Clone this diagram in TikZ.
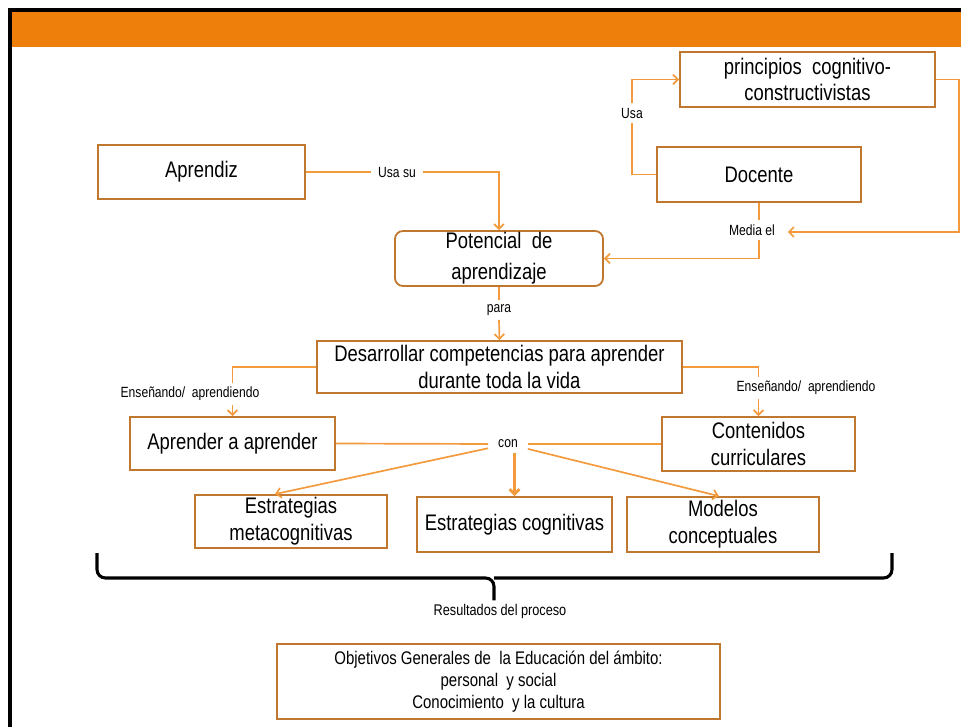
\documentclass[tikz,border=0pt]{standalone}
\usepackage{fontspec}
\setmainfont{Liberation Sans}[FakeStretch=0.82]
\usetikzlibrary{arrows, arrows.meta, calc, positioning}
\definecolor{bar_orange}{HTML}{EE7F0A}
\definecolor{box_brown}{HTML}{C0772F}
\definecolor{link_orange}{HTML}{F39A3C}
\tikzstyle{concept_box}=[rectangle, draw=box_brown, line width=1.3pt, align=center, inner sep=0pt, font=\fontsize{16}{19}\selectfont]
\tikzstyle{link_label}=[inner xsep=5pt, inner ysep=3pt, align=center, font=\fontsize{10.5}{12}\selectfont]
\tikzstyle{link}=[draw=link_orange, line width=1.2pt]
\tikzstyle{link_arrow}=[link, -{Straight Barb[length=3.5pt, width=7pt]}]
\tikzstyle{brace_line}=[draw=black, line width=2.2pt, rounded corners=6pt]

\begin{document}
\begin{tikzpicture}[x=0.025cm, y=-0.025cm]
\useasboundingbox (0,0) rectangle (961,727);

% header bar and frame
\fill[bar_orange] (10,10) rectangle (961,47);
\draw[line width=2.2pt] (10,727) -- (10,10) -- (961,10);

% top concepts
\node [concept_box, minimum width=6.375cm, minimum height=1.375cm] (principios) at (807.5,79.5) {principios\ \ cognitivo-\\constructivistas};
\node [concept_box, minimum width=5.1cm,   minimum height=1.375cm] (docente)    at (759,174.5)   {Docente};
\node [concept_box, minimum width=5.175cm, minimum height=1.35cm]  (aprendiz)   at (201.5,172)   {Aprendiz};
\node [concept_box, minimum width=5.2cm,   minimum height=1.375cm,
       rounded corners=0.2cm, font=\fontsize{16}{22}\selectfont] (potencial) at (499,258.5) {Potencial\ \ de\\aprendizaje};

% middle concepts
\node [concept_box, minimum width=9.125cm, minimum height=1.3cm]   (desarrollar) at (499.5,367) {Desarrollar competencias para aprender\\durante toda la vida};
\node [concept_box, minimum width=5.125cm, minimum height=1.325cm] (aprender)    at (232.5,443.5) {Aprender a aprender};
\node [concept_box, minimum width=4.825cm, minimum height=1.35cm]  (contenidos)  at (758.5,444)   {Contenidos\\curriculares};

% strategies row
\node [concept_box, minimum width=4.8cm,   minimum height=1.325cm] (estr_meta) at (291,521.5)   {Estrategias\\metacognitivas};
\node [concept_box, minimum width=4.875cm, minimum height=1.375cm] (estr_cog)  at (514.5,524.5) {Estrategias cognitivas};
\node [concept_box, minimum width=4.8cm,   minimum height=1.375cm] (modelos)   [right=3.25mm of estr_cog] {Modelos\\conceptuales};

% goals
\node [concept_box, minimum width=11.075cm, minimum height=1.875cm,
       font=\fontsize{13}{15.5}\selectfont] (objetivos) at (498.5,681.5)
      {Objetivos Generales de\ \ la Educación del ámbito:\\personal\ \ y social\\Conocimiento\ \ y la cultura};

% link labels
\node [link_label] (lbl_usa_su)     at (397,172) {Usa su};
\node [link_label] (lbl_usa)        at (632,113) {Usa};
\node [link_label] (lbl_media)      at (752,230) {Media el};
\node [link_label] (lbl_para)       at (499,310) {para};
\node [link_label] (lbl_ens_left)   at (190,394) {Enseñando/\ \ aprendiendo};
\node [link_label] (lbl_ens_right)  at (806,388) {Enseñando/\ \ aprendiendo};
\node [link_label, inner xsep=7pt] (lbl_con) at (508,444) {con};
\node [link_label, font=\fontsize{11}{13}\selectfont] (lbl_resultados) at (500,612) {Resultados del proceso};

% Aprendiz uses its potential
\draw[link] (aprendiz.east) -- (lbl_usa_su.west);
\draw[link_arrow] (lbl_usa_su.east) -| (potencial.north);

% Docente uses principles
\draw[link] (docente.west) -| (lbl_usa.south);
\draw[link_arrow] (lbl_usa.north) |- (principios.west);

% principles feed mediation
\coordinate (right_turn) at (959,232);
\draw[link_arrow, shorten >=4pt] (principios.east) -| (right_turn) -- (right_turn -| lbl_media.east);

% Docente mediates
\draw[link] (docente.south) -- (docente.south |- lbl_media.north);
\draw[link_arrow] (docente.south |- lbl_media.south) |- (potencial.east);

% para
\draw[link] (potencial.south) -- (lbl_para.north);
\draw[link_arrow] (lbl_para.south) -- (desarrollar.north);

% teaching / learning branches
\draw[link] (desarrollar.west) -| (aprender.north |- lbl_ens_left.north);
\draw[link_arrow] (aprender.north |- lbl_ens_left.south) -- (aprender.north);
\draw[link] (desarrollar.east) -| (contenidos.north |- lbl_ens_right.north);
\draw[link_arrow] (contenidos.north |- lbl_ens_right.south) -- (contenidos.north);

% con
\draw[link] (aprender.east) -- (lbl_con.west);
\draw[link] (contenidos.west) -- (lbl_con.east);
\draw[link_arrow] (lbl_con) -- ([xshift=-0.4cm]estr_meta.north);
\draw[link_arrow, line width=2pt] (lbl_con.south -| estr_cog.north) -- (estr_cog.north);
\draw[link_arrow] (lbl_con) -- ([xshift=-0.1cm]modelos.north);

% brace over the results
\coordinate (brace_left)  at (97,553);
\coordinate (brace_right) at (892,553);
\coordinate (brace_mid)   at (494,578);
\draw[brace_line] (brace_left) |- (brace_mid) -- (brace_mid |- lbl_resultados.north);
\draw[brace_line] (brace_right) |- (brace_mid);

\end{tikzpicture}
\end{document}
